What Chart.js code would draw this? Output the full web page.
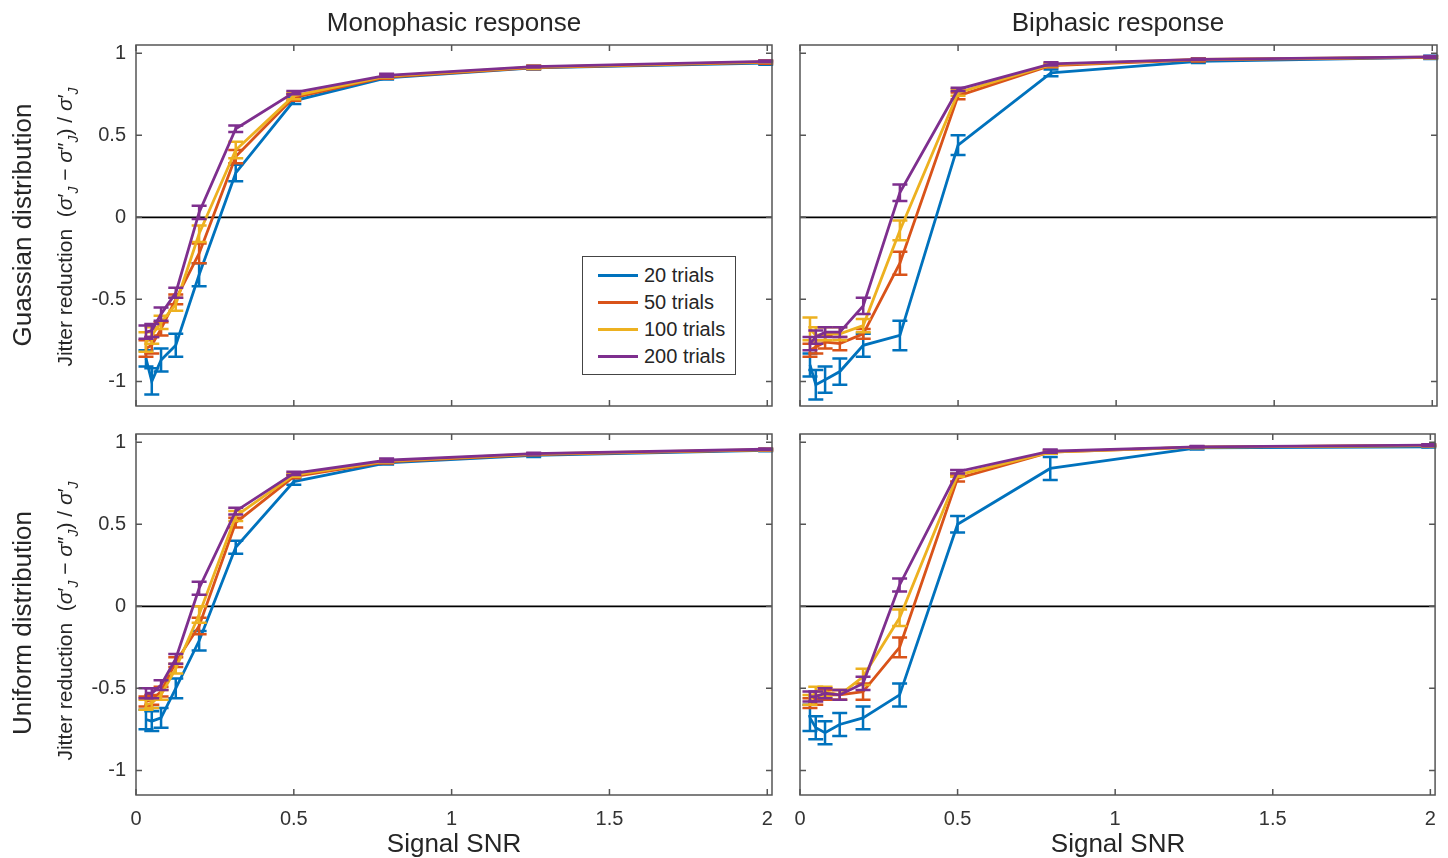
<!DOCTYPE html>
<html>
<head>
<meta charset="utf-8">
<script src="https://cdn.jsdelivr.net/npm/chart.js@4.4.0/dist/chart.umd.min.js"></script>
<style>
  body { margin: 0; background: #fff; font-family: "Liberation Sans", Arial, sans-serif; color: #262626; }
  #wrap { position: relative; width: 1448px; height: 858px; overflow: hidden; }
  #wrap canvas { position: absolute; left: 0; top: 0; }
  .txt { position: absolute; white-space: nowrap; transform: translate(-50%, -50%); }
  .rot { transform: translate(-50%, -50%) rotate(-90deg); }
  .title { font-size: 26px; }
  .ylab { font-size: 21px; }
  .ylab sub { font-size: 14px; }
  #legend { position: absolute; left: 582px; top: 256px; width: 152px; height: 117px; border: 1px solid #444; background: #fff; z-index: 5; }
  .leg-row { position: absolute; left: 0; height: 24px; }
  .leg-line { position: absolute; left: 15px; top: 11px; width: 40px; height: 2.8px; }
  .leg-txt { position: absolute; left: 61px; top: 0; font-size: 20px; line-height: 24px; color: #262626; }
</style>
</head>
<body>
<div id="wrap">
  <canvas id="gaussMono" width="1448" height="858"></canvas>
  <canvas id="gaussBi" width="1448" height="858"></canvas>
  <canvas id="unifMono" width="1448" height="858"></canvas>
  <canvas id="unifBi" width="1448" height="858"></canvas>

  <div class="txt title" style="left:454px; top:22px;">Monophasic response</div>
  <div class="txt title" style="left:1118px; top:22px;">Biphasic response</div>
  <div class="txt title" style="left:454px; top:843px;">Signal SNR</div>
  <div class="txt title" style="left:1118px; top:843px;">Signal SNR</div>

  <div class="txt rot title" style="left:22px; top:225px; font-size:26px;">Guassian distribution</div>
  <div class="txt rot title" style="left:22px; top:623px; font-size:26px;">Uniform distribution</div>
  <div class="txt rot ylab" style="left:67px; top:227px;">Jitter reduction&nbsp;&nbsp;(<i>σ</i>′<sub><i>J</i></sub> − <i>σ</i>″<sub><i>J</i></sub>) / <i>σ</i>′<sub><i>J</i></sub></div>
  <div class="txt rot ylab" style="left:67px; top:621px;">Jitter reduction&nbsp;&nbsp;(<i>σ</i>′<sub><i>J</i></sub> − <i>σ</i>″<sub><i>J</i></sub>) / <i>σ</i>′<sub><i>J</i></sub></div>

  <div id="legend"></div>
</div>

<script>
// signal SNR values (x) shared by all panels
const snr = [0.0316, 0.05, 0.0794, 0.126, 0.2, 0.316, 0.5, 0.794, 1.26, 1.995];
const trialLabels = ['20 trials', '50 trials', '100 trials', '200 trials'];
const colors = ['#0072BD', '#D95319', '#EDB120', '#7E2F8E'];
const xTicks = [0, 0.5, 1, 1.5, 2];
const xTickLabels = ['0', '0.5', '1', '1.5', '2'];
const yTicks = [-1, -0.5, 0, 0.5, 1];
const yTickLabels = ['-1', '-0.5', '0', '0.5', '1'];

// Gaussian distribution, monophasic response
const gaussMono20 = [-0.86, -1.00, -0.87, -0.78, -0.35, 0.27, 0.71, 0.85, 0.91, 0.94];
const gaussMono50 = [-0.80, -0.78, -0.68, -0.50, -0.22, 0.37, 0.73, 0.855, 0.912, 0.945];
const gaussMono100 = [-0.76, -0.72, -0.64, -0.53, -0.10, 0.41, 0.74, 0.86, 0.915, 0.947];
const gaussMono200 = [-0.70, -0.69, -0.59, -0.46, 0.03, 0.54, 0.76, 0.865, 0.918, 0.95];
const gaussMono20Err = [0.05, 0.08, 0.07, 0.07, 0.07, 0.05, 0.02, 0.01, 0.01, 0.01];
const gaussMono50Err = [0.05, 0.05, 0.04, 0.03, 0.06, 0.04, 0.02, 0.01, 0.01, 0.01];
const gaussMono100Err = [0.06, 0.05, 0.04, 0.04, 0.05, 0.05, 0.02, 0.01, 0.01, 0.005];
const gaussMono200Err = [0.04, 0.04, 0.04, 0.03, 0.04, 0.02, 0.01, 0.01, 0.005, 0.005];

// Gaussian distribution, biphasic response
const gaussBi20 = [-0.90, -1.02, -0.99, -0.94, -0.78, -0.72, 0.44, 0.88, 0.95, 0.975];
const gaussBi50 = [-0.81, -0.79, -0.76, -0.77, -0.71, -0.28, 0.74, 0.925, 0.96, 0.975];
const gaussBi100 = [-0.68, -0.72, -0.71, -0.71, -0.66, -0.08, 0.76, 0.93, 0.962, 0.976];
const gaussBi200 = [-0.77, -0.73, -0.70, -0.70, -0.54, 0.15, 0.78, 0.935, 0.963, 0.978];
const gaussBi20Err = [0.07, 0.09, 0.08, 0.08, 0.07, 0.09, 0.06, 0.02, 0.01, 0.01];
const gaussBi50Err = [0.04, 0.04, 0.04, 0.04, 0.03, 0.07, 0.02, 0.01, 0.01, 0.005];
const gaussBi100Err = [0.07, 0.05, 0.04, 0.04, 0.04, 0.06, 0.02, 0.01, 0.005, 0.005];
const gaussBi200Err = [0.04, 0.04, 0.03, 0.03, 0.05, 0.05, 0.01, 0.01, 0.005, 0.005];

// Uniform distribution, monophasic response
const unifMono20 = [-0.69, -0.70, -0.68, -0.50, -0.21, 0.36, 0.76, 0.874, 0.92, 0.95];
const unifMono50 = [-0.58, -0.57, -0.52, -0.34, -0.12, 0.51, 0.79, 0.88, 0.925, 0.953];
const unifMono100 = [-0.60, -0.59, -0.54, -0.38, -0.05, 0.55, 0.80, 0.885, 0.928, 0.955];
const unifMono200 = [-0.53, -0.53, -0.48, -0.32, 0.11, 0.58, 0.81, 0.89, 0.93, 0.957];
const unifMono20Err = [0.06, 0.06, 0.06, 0.06, 0.06, 0.04, 0.02, 0.01, 0.01, 0.005];
const unifMono50Err = [0.03, 0.03, 0.03, 0.03, 0.05, 0.03, 0.01, 0.01, 0.005, 0.005];
const unifMono100Err = [0.03, 0.03, 0.03, 0.03, 0.05, 0.03, 0.01, 0.01, 0.005, 0.005];
const unifMono200Err = [0.03, 0.03, 0.03, 0.03, 0.04, 0.02, 0.01, 0.01, 0.005, 0.005];

// Uniform distribution, biphasic response
const unifBi20 = [-0.68, -0.74, -0.77, -0.72, -0.68, -0.54, 0.50, 0.84, 0.965, 0.972];
const unifBi50 = [-0.59, -0.57, -0.54, -0.54, -0.52, -0.25, 0.78, 0.94, 0.97, 0.98];
const unifBi100 = [-0.57, -0.52, -0.52, -0.54, -0.43, -0.07, 0.80, 0.94, 0.97, 0.98];
const unifBi200 = [-0.55, -0.55, -0.53, -0.54, -0.47, 0.13, 0.82, 0.945, 0.972, 0.982];
const unifBi20Err = [0.08, 0.07, 0.07, 0.07, 0.07, 0.07, 0.05, 0.07, 0.01, 0.005];
const unifBi50Err = [0.03, 0.03, 0.03, 0.03, 0.05, 0.06, 0.02, 0.01, 0.005, 0.005];
const unifBi100Err = [0.03, 0.03, 0.03, 0.03, 0.05, 0.05, 0.01, 0.01, 0.005, 0.005];
const unifBi200Err = [0.03, 0.03, 0.03, 0.03, 0.04, 0.04, 0.01, 0.01, 0.005, 0.005];

Chart.defaults.font.family = "'Liberation Sans', Arial, sans-serif";

// matlab look: zero line, error bars, boxed axes with inward ticks
const matlabAxes = {
    id: 'matlabAxes',
    beforeDatasetsDraw(chart) {
        const ctx = chart.ctx, a = chart.chartArea;
        const y0 = chart.scales.y.getPixelForValue(0);
        ctx.save();
        ctx.strokeStyle = '#000';
        ctx.lineWidth = 1.8;
        ctx.beginPath();
        ctx.moveTo(a.left, y0);
        ctx.lineTo(a.right, y0);
        ctx.stroke();
        ctx.restore();
    },
    afterDatasetDraw(chart, args) {
        const ds = chart.data.datasets[args.index];
        const xs = chart.scales.x, ys = chart.scales.y, ctx = chart.ctx;
        ctx.save();
        ctx.strokeStyle = ds.borderColor;
        ctx.lineWidth = 2.5;
        ds.data.forEach((p, j) => {
            const e = ds.errors[j];
            const px = xs.getPixelForValue(p.x);
            const top = ys.getPixelForValue(p.y + e);
            const bot = ys.getPixelForValue(p.y - e);
            ctx.beginPath();
            ctx.moveTo(px, top); ctx.lineTo(px, bot);
            ctx.moveTo(px - 7.5, top); ctx.lineTo(px + 7.5, top);
            ctx.moveTo(px - 7.5, bot); ctx.lineTo(px + 7.5, bot);
            ctx.stroke();
        });
        ctx.restore();
    },
    afterDraw(chart) {
        const ctx = chart.ctx, a = chart.chartArea;
        const xs = chart.scales.x, ys = chart.scales.y;
        ctx.save();
        ctx.strokeStyle = '#555';
        ctx.lineWidth = 1.5;
        ctx.strokeRect(a.left, a.top, a.right - a.left, a.bottom - a.top);
        ctx.beginPath();
        xTicks.forEach(v => {
            const px = xs.getPixelForValue(v);
            ctx.moveTo(px, a.bottom); ctx.lineTo(px, a.bottom - 6);
            ctx.moveTo(px, a.top); ctx.lineTo(px, a.top + 6);
        });
        yTicks.forEach(v => {
            const py = ys.getPixelForValue(v);
            ctx.moveTo(a.left, py); ctx.lineTo(a.left + 6, py);
            ctx.moveTo(a.right, py); ctx.lineTo(a.right - 6, py);
        });
        ctx.stroke();
        ctx.restore();
    }
};

function makePanel(id, area, series, errs, showX, showY) {
    const ctx = document.getElementById(id).getContext('2d');
    return new Chart(ctx, {
        type: 'line',
        data: {
            datasets: series.map((vals, i) => ({
                label: trialLabels[i],
                data: snr.map((x, j) => ({ x: x, y: vals[j] })),
                errors: errs[i],
                borderColor: colors[i],
                borderWidth: 2.8,
                pointRadius: 0,
                tension: 0,
                fill: false,
                order: 3 - i
            }))
        },
        options: {
            responsive: false,
            animation: false,
            events: [],
            layout: {
                padding: { left: area.left - 60, top: area.top, right: 1448 - area.right, bottom: 858 - area.bottom - 50 }
            },
            plugins: { legend: { display: false }, tooltip: { enabled: false } },
            scales: {
                x: {
                    type: 'linear', min: 0, max: 2.015,
                    afterFit: s => { s.height = 50; },
                    afterBuildTicks: s => { s.ticks = xTicks.map(v => ({ value: v })); },
                    grid: { display: false, drawTicks: false },
                    border: { display: false },
                    ticks: { display: showX, padding: 12, color: '#333', font: { size: 20 },
                        callback: (v, i) => xTickLabels[i] }
                },
                y: {
                    min: -1.15, max: 1.05,
                    afterFit: s => { s.width = 60; },
                    afterBuildTicks: s => { s.ticks = yTicks.map(v => ({ value: v })); },
                    grid: { display: false, drawTicks: false },
                    border: { display: false },
                    ticks: { display: showY, padding: 10, color: '#333', font: { size: 20 },
                        callback: (v, i) => yTickLabels[i] }
                }
            }
        },
        plugins: [matlabAxes]
    });
}

makePanel('gaussMono', { left: 136, top: 45, right: 772, bottom: 406 },
    [gaussMono20, gaussMono50, gaussMono100, gaussMono200],
    [gaussMono20Err, gaussMono50Err, gaussMono100Err, gaussMono200Err], false, true);
makePanel('gaussBi', { left: 800, top: 45, right: 1437, bottom: 406 },
    [gaussBi20, gaussBi50, gaussBi100, gaussBi200],
    [gaussBi20Err, gaussBi50Err, gaussBi100Err, gaussBi200Err], false, false);
makePanel('unifMono', { left: 136, top: 434, right: 772, bottom: 795 },
    [unifMono20, unifMono50, unifMono100, unifMono200],
    [unifMono20Err, unifMono50Err, unifMono100Err, unifMono200Err], true, true);
makePanel('unifBi', { left: 800, top: 434, right: 1437, bottom: 795 },
    [unifBi20, unifBi50, unifBi100, unifBi200],
    [unifBi20Err, unifBi50Err, unifBi100Err, unifBi200Err], true, false);

// legend box in the first panel
const legend = document.getElementById('legend');
trialLabels.forEach((name, i) => {
    const row = document.createElement('div');
    row.className = 'leg-row';
    row.style.top = (6 + i * 27) + 'px';
    row.style.width = '100%';
    row.innerHTML = '<div class="leg-line" style="background:' + colors[i] + '"></div><div class="leg-txt">' + name + '</div>';
    legend.appendChild(row);
});
</script>
</body>
</html>
